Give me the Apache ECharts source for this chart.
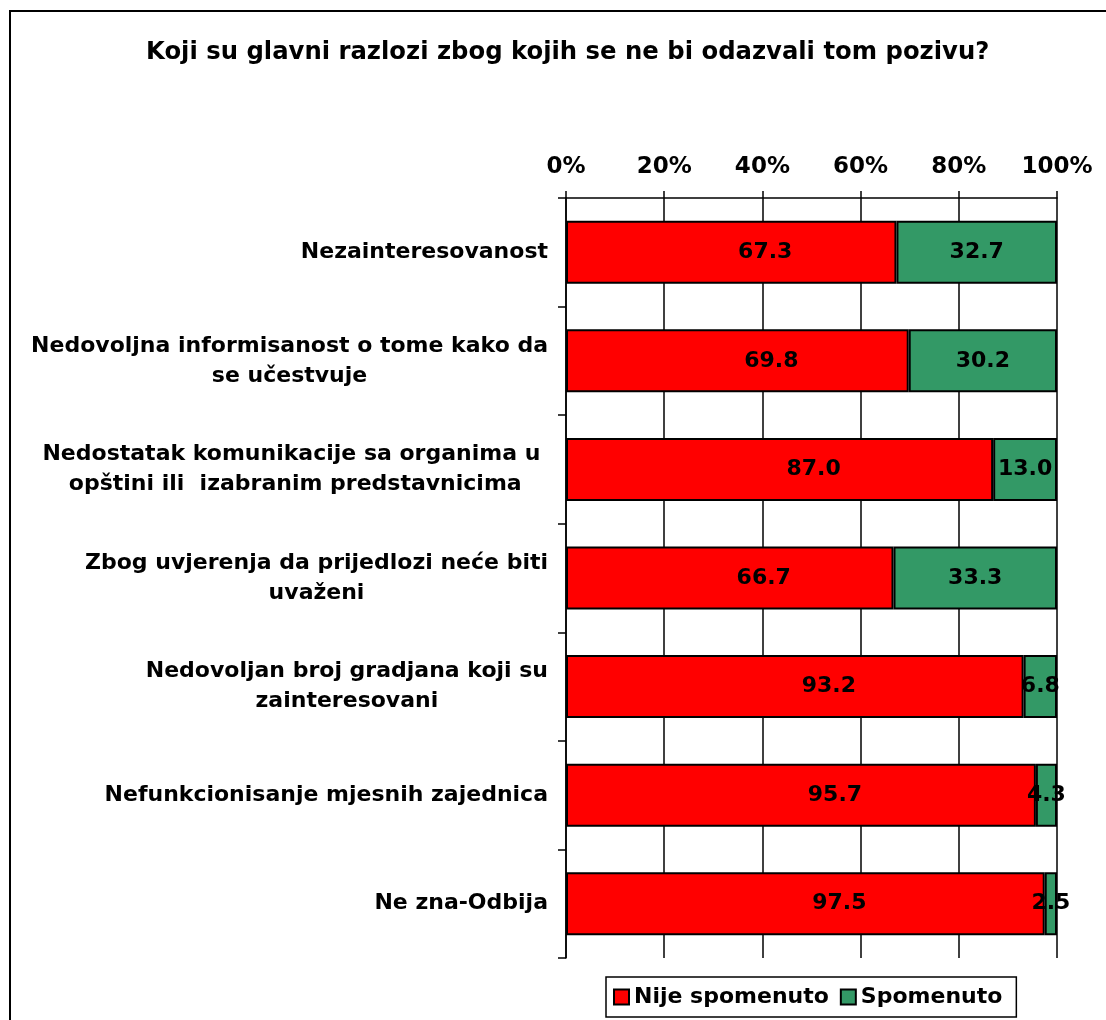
<!DOCTYPE html>
<html>
<head>
<meta charset="utf-8">
<script src="https://cdn.jsdelivr.net/npm/echarts@6/dist/echarts.min.js"></script>
<style>
html,body{margin:0;padding:0;background:#fff;}
#chart{width:1106px;height:1020px;}
</style>
</head>
<body>
<div id="chart"></div>
<script>
const titleText = 'Koji su glavni razlozi zbog kojih se ne bi odazvali tom pozivu?';
const categories = [
  'Nezainteresovanost',
  'Nedovoljna informisanost o tome kako da\nse učestvuje',
  'Nedostatak komunikacije sa organima u \nopštini ili  izabranim predstavnicima',
  'Zbog uvjerenja da prijedlozi neće biti\nuvaženi',
  'Nedovoljan broj gradjana koji su\nzainteresovani',
  'Nefunkcionisanje mjesnih zajednica',
  'Ne zna-Odbija'
];
const seriesNames = ['Nije spomenuto', 'Spomenuto'];
const nijeSpomenuto = [67.3, 69.8, 87.0, 66.7, 93.2, 95.7, 97.5];
const spomenuto = [32.7, 30.2, 13.0, 33.3, 6.8, 4.3, 2.5];
const xTicks = [0, 20, 40, 60, 80, 100];

const FONT = '"DejaVu Sans", Verdana, sans-serif';
const chart = echarts.init(document.getElementById('chart'));

function labelStyle(offsetX) {
  return {
    show: true,
    position: 'inside',
    offset: [offsetX, 0],
    color: '#000',
    fontFamily: FONT,
    fontWeight: 'bold',
    fontSize: 22,
    formatter: p => p.value.toFixed(1)
  };
}

chart.setOption({
  animation: false,
  backgroundColor: '#fff',
  textStyle: { fontFamily: FONT },
  graphic: [{
    type: 'rect',
    z: 100,
    silent: true,
    shape: { x: 10, y: 11, width: 1300, height: 1300 },
    style: { fill: 'none', stroke: '#000', lineWidth: 2 }
  }],
  title: {
    text: titleText,
    left: 141,
    top: 36,
    textStyle: { fontFamily: FONT, fontWeight: 'bold', fontSize: 24.3, color: '#000' }
  },
  legend: {
    data: seriesNames,
    left: 606,
    top: 977,
    padding: [9, 14, 9, 7],
    itemGap: 11,
    itemWidth: 15,
    itemHeight: 15,
    icon: 'rect',
    borderColor: '#000',
    borderWidth: 1.5,
    textStyle: { fontFamily: FONT, fontWeight: 'bold', fontSize: 22, color: '#000' }
  },
  grid: { left: 566, right: 49, top: 198, bottom: 62, containLabel: false },
  xAxis: {
    type: 'value',
    position: 'top',
    min: xTicks[0],
    max: xTicks[xTicks.length - 1],
    interval: 20,
    axisLine: { show: true, lineStyle: { color: '#000', width: 1.5 } },
    axisTick: { show: true, length: 7, lineStyle: { color: '#000', width: 1.5 } },
    splitLine: { show: true, lineStyle: { color: '#000', width: 1.5 } },
    axisLabel: {
      formatter: '{value}%',
      margin: 19,
      color: '#000',
      fontFamily: FONT,
      fontWeight: 'bold',
      fontSize: 23
    }
  },
  yAxis: {
    type: 'category',
    data: categories,
    inverse: true,
    axisLine: { show: true, lineStyle: { color: '#000', width: 1.5 } },
    axisTick: { show: true, length: 8, lineStyle: { color: '#000', width: 1.5 } },
    axisLabel: {
      margin: 18,
      color: '#000',
      fontFamily: FONT,
      fontWeight: 'bold',
      fontSize: 22,
      lineHeight: 30,
      formatter: v => v.split('\n').map(s => '{c|' + s + '}').join('\n'),
      rich: {
        c: { align: 'center', fontFamily: FONT, fontWeight: 'bold', fontSize: 22, lineHeight: 30, color: '#000' }
      }
    }
  },
  series: [
    {
      name: seriesNames[0],
      type: 'bar',
      stack: 'total',
      barCategoryGap: '42%',
      data: nijeSpomenuto,
      itemStyle: { color: '#FF0000', borderColor: '#000', borderWidth: 2 },
      label: labelStyle(34)
    },
    {
      name: seriesNames[1],
      type: 'bar',
      stack: 'total',
      barCategoryGap: '42%',
      data: spomenuto,
      itemStyle: { color: '#339966', borderColor: '#000', borderWidth: 2 },
      label: labelStyle(0)
    }
  ]
});
</script>
</body>
</html>
